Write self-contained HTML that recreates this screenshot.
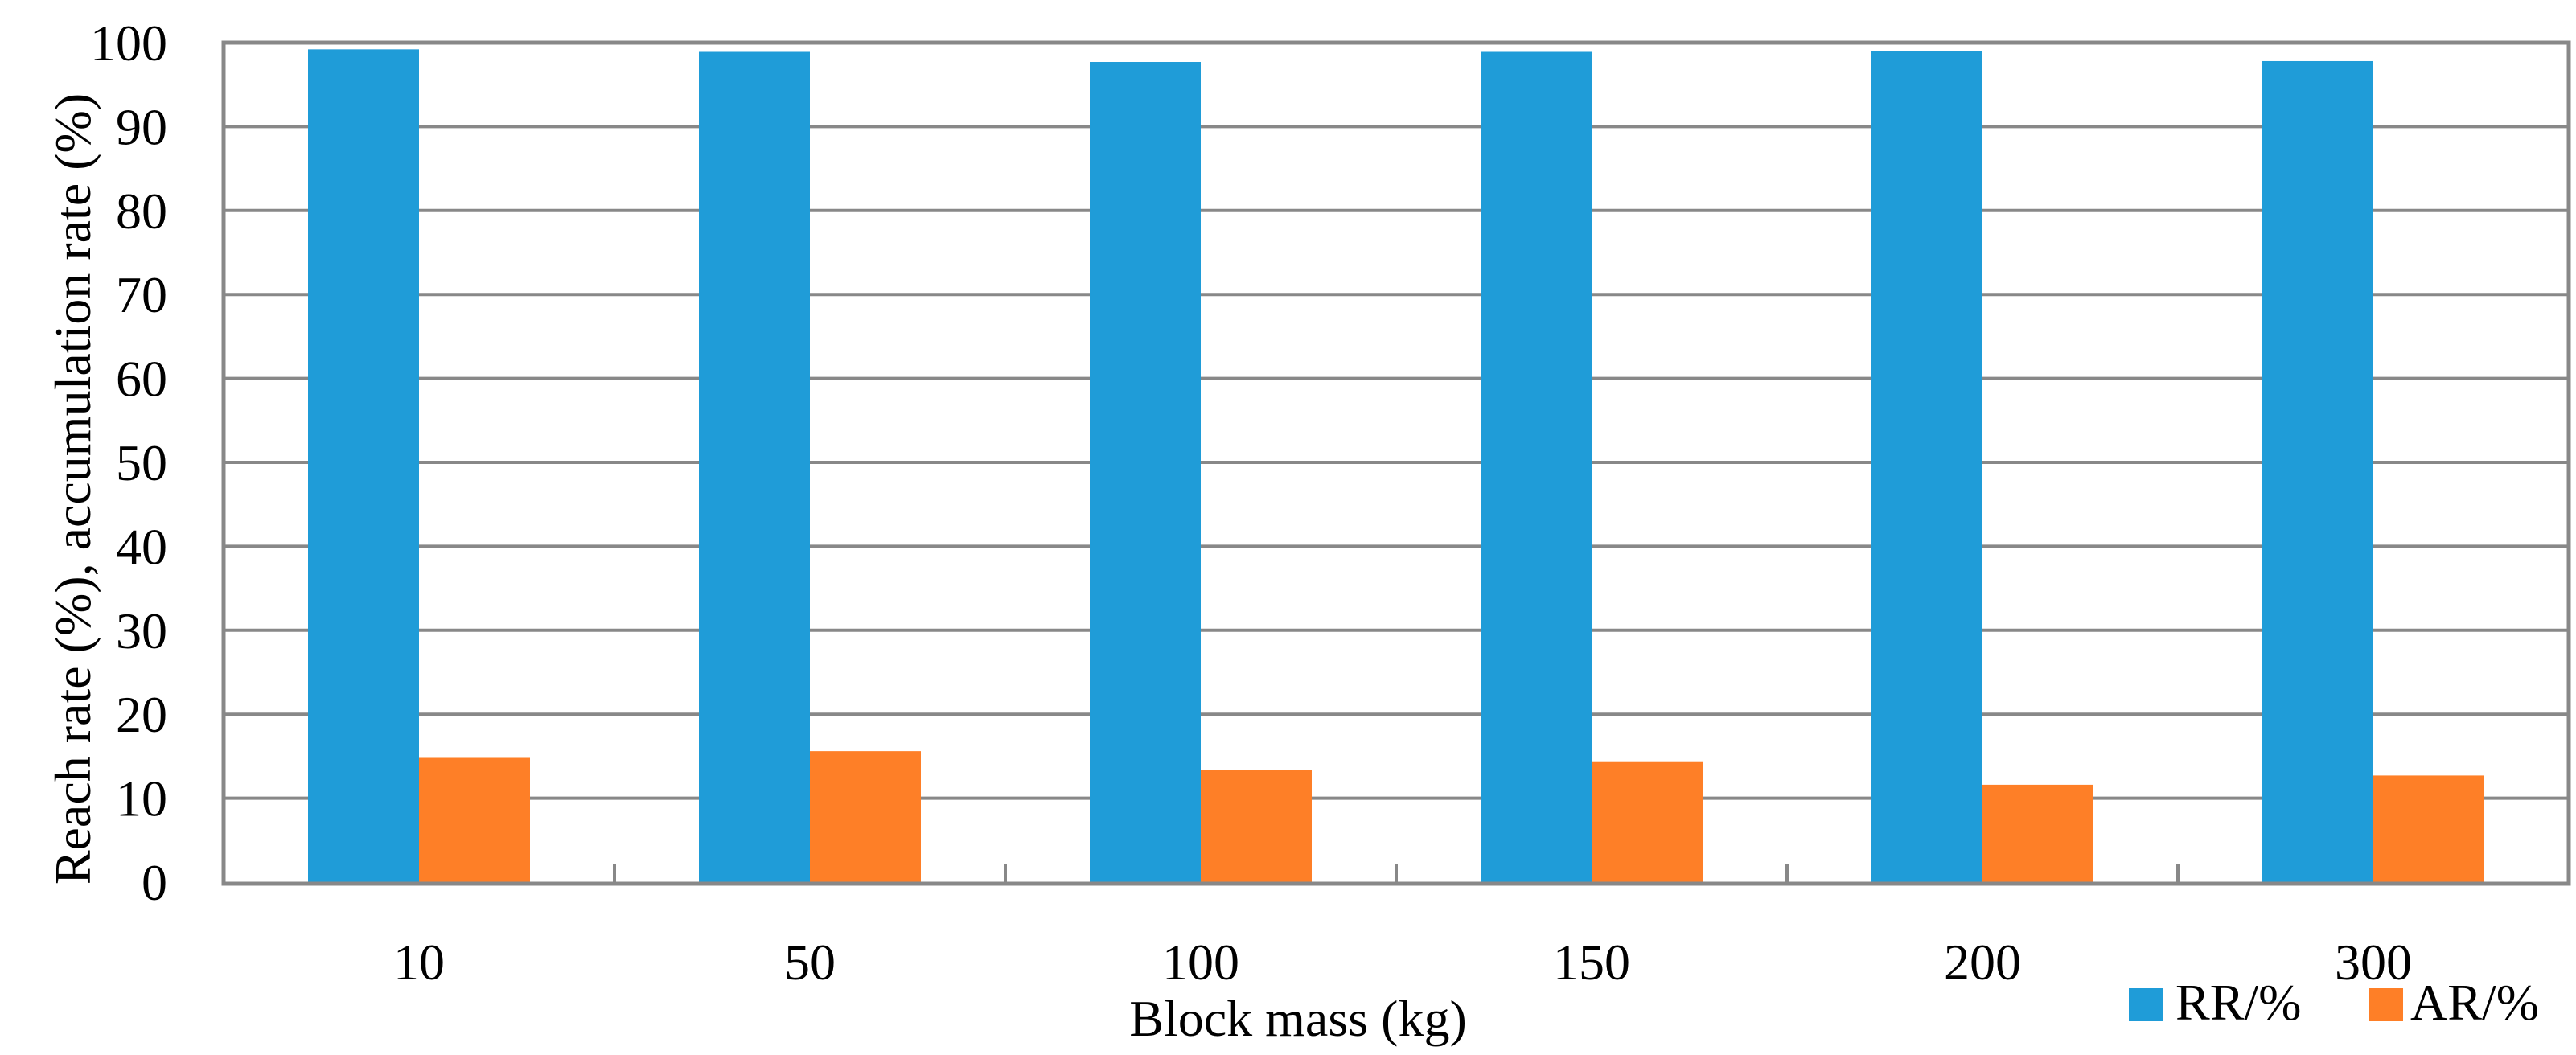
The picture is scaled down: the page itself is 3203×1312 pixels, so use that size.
<!DOCTYPE html>
<html><head><meta charset="utf-8"><style>
html,body{margin:0;padding:0;background:#fff}
svg{display:block;font-family:"Liberation Serif",serif}
</style></head><body>
<svg id="chart" width="3203" height="1312" viewBox="0 0 3203 1312" xmlns="http://www.w3.org/2000/svg">
<g id="grid"></g><g id="bars"></g><g id="axes"></g>
<text transform="translate(112,608) rotate(-90)" text-anchor="middle" font-size="64">Reach rate (%), accumulation rate (%)</text>
<text x="1614" y="1288" text-anchor="middle" font-size="64">Block mass (kg)</text>
<g>
<rect x="2647" y="1229" width="43" height="41" fill="#1f9cd8"/>
<text x="2705" y="1268" font-size="64">RR/%</text>
<rect x="2946" y="1229" width="42" height="41" fill="#fe7f27"/>
<text x="2997" y="1268" font-size="64">AR/%</text>
</g>
</svg>
<script>
const categories = ["10","50","100","150","200","300"];
const rrValues = [99.2, 98.9, 97.7, 98.9, 99.0, 97.8];
const arValues = [14.8, 15.6, 13.4, 14.3, 11.6, 12.7];
const yTicks = [0,10,20,30,40,50,60,70,80,90,100];

const NS = "http://www.w3.org/2000/svg";
const L = 278, R = 3194, T = 53, B = 1097;
const yMax = 100;
const y = v => B - (v / yMax) * (B - T);
const catW = (R - L) / categories.length;
const xc = i => L + catW * (i + 0.5);
const barW = 138;
function mk(tag, attrs, parent) {
  const e = document.createElementNS(NS, tag);
  for (const k in attrs) e.setAttribute(k, attrs[k]);
  parent.appendChild(e);
  return e;
}
const grid = document.getElementById('grid');
const bars = document.getElementById('bars');
const axes = document.getElementById('axes');
yTicks.forEach(t => {
  if (t > 0 && t < yMax) {
    const g = mk('line', {x1: L, x2: R, y1: y(t), y2: y(t), stroke: '#888', 'stroke-width': 4}, grid);
    
    
  }
  const lb = mk('text', {x: 208, y: y(t) + 22, 'text-anchor': 'end', 'font-size': 64}, axes);
  lb.textContent = t;
  
  
});
categories.forEach((c, i) => {
  const b1 = mk('rect', {x: xc(i) - barW, y: y(rrValues[i]), width: barW, height: B - y(rrValues[i]), fill: '#1f9cd8'}, bars);
  
  
  const b2 = mk('rect', {x: xc(i), y: y(arValues[i]), width: barW, height: B - y(arValues[i]), fill: '#fe7f27'}, bars);
  
  
  const lb = mk('text', {x: xc(i), y: 1218, 'text-anchor': 'middle', 'font-size': 64}, axes);
  lb.textContent = c;
  
  
  if (i > 0) {
    const tk = mk('line', {x1: L + catW * i, x2: L + catW * i, y1: B - 22, y2: B, stroke: '#888', 'stroke-width': 4}, axes);
    
    
  }
});
const frame = mk('rect', {x: L, y: T, width: R - L, height: B - T + 2, fill: 'none', stroke: '#888', 'stroke-width': 5}, axes);


</script>
</body></html>
